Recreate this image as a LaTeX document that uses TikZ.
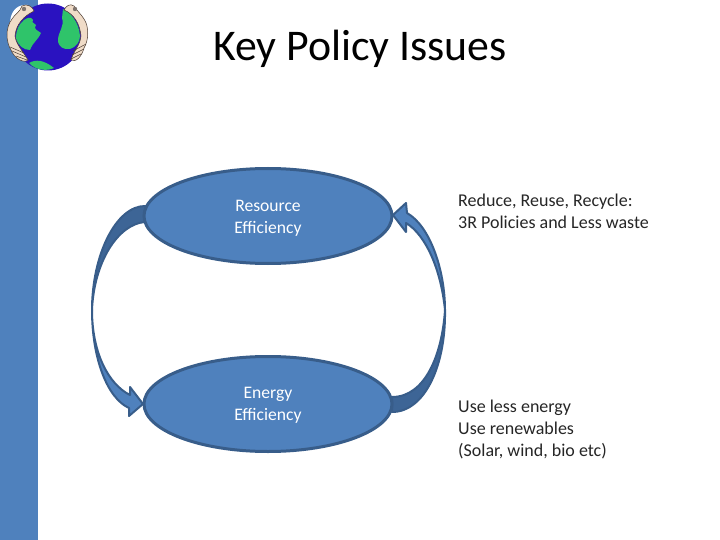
\documentclass[tikz,border=0pt]{standalone}
\usepackage{fontspec}
\setmainfont{Carlito}
\usetikzlibrary{shapes.geometric}
\definecolor{barblue}{HTML}{4F81BD}
\definecolor{edgeblue}{HTML}{385D8A}
\definecolor{darkarrow}{HTML}{3D6596}
\definecolor{globeblue}{HTML}{2A12C0}
\definecolor{landgreen}{HTML}{2FC46A}
\definecolor{skin}{HTML}{F0DCC8}
\definecolor{handline}{HTML}{4A3A30}
\tikzset{
  blob/.style={ellipse,draw=edgeblue,line width=3pt,fill=barblue,minimum width=248pt,minimum height=95pt,inner sep=0pt},
  bubbletext/.style={text=white,font=\fontsize{17.6}{22}\selectfont,align=center},
  sidetext/.style={text=black!85,font=\fontsize{18}{22}\selectfont,align=left,anchor=north west,inner sep=0pt},
  titletext/.style={text=black,font=\fontsize{43.8}{48}\selectfont,inner sep=0pt},
  arrowbody/.style={draw=edgeblue,line width=2pt,fill=barblue,line join=round},
  arrowtail/.style={draw=edgeblue,line width=2pt,fill=darkarrow,line join=round},
  land/.style={fill=landgreen,draw=none},
  hand/.style={fill=skin,draw=handline,line width=.5pt},
  crease/.style={draw=handline,line width=.5pt},
}
\begin{document}
\begin{tikzpicture}[x=1pt,y=-1pt]
\useasboundingbox (0,0) rectangle (720,540);
\fill[white] (0,0) rectangle (720,540);
\fill[barblue] (0,0) rectangle (38,540);
% globe logo
\fill[white] (10,22) .. controls (11,10) and (18,4) .. (28,5) -- (30,30) -- cycle;
\fill[white] (85,22) .. controls (84,10) and (78,4) .. (68,5) -- (66,30) -- cycle;
\fill[globeblue] (48,37) circle (33.5);
\fill[land] (24,20) .. controls (27,18) and (31,16) .. (33,20) .. controls (31,24) and (35,22) .. (36,25) .. controls (33,29) and (37,30) .. (41,33) .. controls (38,40) and (33,42) .. (30,50) .. controls (24,50) and (18,46) .. (16,38) .. controls (16,30) and (19,24) .. (24,20) -- cycle;
\fill[land] (63,9) .. controls (70,12) and (79,22) .. (80,36) .. controls (80,42) and (76,47) .. (70,49) .. controls (64,50) and (58,47) .. (58,40) .. controls (58,32) and (65,26) .. (62,18) -- cycle;
\fill[land] (29,63) .. controls (36,59) and (44,60) .. (54,68) .. controls (48,71) and (36,71) .. (29,63) -- cycle;
\path[hand] (22,6) .. controls (27,3) and (33,7) .. (34,11) .. controls (24,16) and (16,24) .. (15,36) .. controls (16,44) and (22,50) .. (28,60) .. controls (24,64) and (14,58) .. (11,50) .. controls (6,42) and (5,28) .. (12,19) .. controls (15,14) and (20,12) .. (22,6) -- cycle;
\path[hand] (74,6) .. controls (70,3) and (66,6) .. (64,10) .. controls (74,14) and (80,24) .. (81,36) .. controls (80,46) and (74,50) .. (71,60) .. controls (76,63) and (82,56) .. (84,48) .. controls (89,40) and (89,26) .. (84,19) .. controls (81,14) and (77,11) .. (74,6) -- cycle;
\fill[handline!70] (24,9) circle (2.2);
\fill[handline!70] (75,9) circle (2.2);
\draw[crease] (10,47) -- (24,53) (12,51) -- (26,57) (16,56) -- (27,60);
\draw[crease] (86,44) -- (73,51) (84,49) -- (72,55) (81,54) -- (71,59);
% title
\node[titletext,anchor=base] (title) at (360,61) {Key Policy Issues};
% arrows
\path[arrowtail] (145,206) .. controls (116,206) and (92,255) .. (92,310) .. controls (94,262) and (118,224) .. (145,222) -- cycle;
\path[arrowbody] (92,310) .. controls (92,352) and (108,384) .. (130,395) -- (130,387) -- (143,404) -- (129,416) -- (129,408) .. controls (107,398) and (92,358) .. (92,310) -- cycle;
\path[arrowtail] (392,412) .. controls (425,412) and (446,365) .. (445,310) .. controls (442,355) and (425,397) .. (392,397) -- cycle;
\path[arrowbody] (445,310) .. controls (445,270) and (430,226) .. (407,213) -- (406,203) -- (393,215) -- (406,232) -- (406,223) .. controls (426,235) and (441,270) .. (445,310) -- cycle;
% bubbles
\node[blob] (res) at (268,216) {};
\node[blob] (ene) at (268,404) {};
\node[bubbletext] (restext) at (268,218.5) {Resource\\Efficiency};
\node[bubbletext] (enetext) at (268,405.5) {Energy\\Efficiency};
\node[sidetext] (side1) at (458,193.5) {Reduce, Reuse, Recycle:\\3R Policies and Less waste};
\node[sidetext] (side2) at (458,400) {Use less energy\\Use renewables\\(Solar, wind, bio etc)};
\end{tikzpicture}
\end{document}
